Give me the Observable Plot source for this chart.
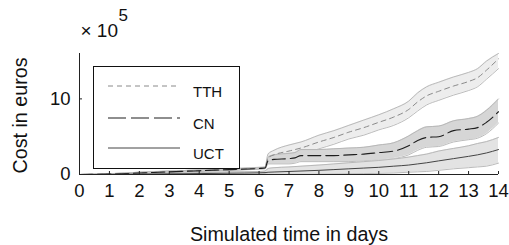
<!DOCTYPE html>
<html>
<head>
<meta charset="utf-8">
<script src="https://cdn.jsdelivr.net/npm/d3@7"></script>
<script src="https://cdn.jsdelivr.net/npm/@observablehq/plot@0.6"></script>
<style>
  html, body { margin: 0; padding: 0; background: #fff; }
  #wrap { position: relative; width: 509px; height: 245px; font-family: "Liberation Sans", Arial, sans-serif; }
  #wrap svg.plot { position: absolute; left: 0; top: 0; }
  #legend { position: absolute; left: 93px; top: 66px; }
</style>
</head>
<body>
<div id="wrap"></div>
<script>
// ---- data (cost in units of 10^5 euros) ----
const days   = [0, 1, 2, 3, 4, 5, 6, 6.2, 6.3, 6.5, 7, 7.2, 7.4, 8, 8.5, 9, 9.5, 10, 10.5, 11, 11.3, 11.6, 12, 12.5, 13, 13.3, 13.6, 14];

const tthMid = [0, 0.05, 0.2, 0.35, 0.5, 0.65, 0.85, 0.9, 2.2, 2.6, 3.1, 3.3, 3.5, 4.3, 4.9, 5.6, 6.2, 6.9, 7.6, 8.6, 9.6, 10.4, 11.0, 11.7, 12.3, 12.8, 13.8, 15.3];
const tthLo  = [0, 0, 0.1, 0.25, 0.4, 0.55, 0.75, 0.8, 1.6, 1.9, 2.3, 2.5, 2.7, 3.4, 4.0, 4.7, 5.2, 5.9, 6.5, 7.5, 8.4, 9.2, 9.8, 10.5, 11.1, 11.6, 12.6, 14.0];
const tthHi  = [0, 0.1, 0.3, 0.45, 0.6, 0.75, 0.95, 1.0, 2.7, 3.2, 3.9, 4.1, 4.3, 5.2, 5.8, 6.5, 7.2, 7.9, 8.7, 9.7, 10.8, 11.6, 12.2, 12.9, 13.5, 14.0, 15.0, 16.0];

const cnMid  = [0, 0.05, 0.2, 0.35, 0.5, 0.65, 0.8, 0.85, 1.8, 2.0, 2.1, 2.2, 2.5, 2.5, 2.5, 2.6, 2.7, 2.9, 3.1, 3.8, 4.5, 4.9, 5.0, 5.8, 6.0, 6.2, 6.9, 8.3];
const cnLo   = [0, 0, 0.1, 0.25, 0.4, 0.55, 0.7, 0.75, 1.4, 1.4, 1.4, 1.5, 1.7, 1.7, 1.7, 1.7, 1.8, 1.9, 2.1, 2.6, 3.2, 3.6, 3.7, 4.3, 4.6, 4.8, 5.4, 6.8];
const cnHi   = [0, 0.1, 0.3, 0.45, 0.6, 0.75, 0.9, 0.95, 2.3, 2.6, 2.8, 2.9, 3.3, 3.3, 3.4, 3.5, 3.6, 3.9, 4.2, 5.1, 5.8, 6.3, 6.4, 7.1, 7.4, 7.7, 8.5, 10.0];

const uctMid = [0, 0.02, 0.05, 0.08, 0.12, 0.17, 0.22, 0.25, 0.3, 0.33, 0.4, 0.43, 0.46, 0.55, 0.65, 0.75, 0.85, 0.95, 1.1, 1.25, 1.4, 1.55, 1.8, 2.1, 2.4, 2.6, 2.85, 3.3];
const uctLo  = [0, 0, 0, 0, 0, 0, 0.05, 0.1, 0.05, 0.05, 0.05, 0.05, 0.05, 0.05, 0.08, 0.1, 0.12, 0.15, 0.2, 0.3, 0.35, 0.4, 0.55, 0.75, 0.9, 1.0, 1.1, 1.5];
const uctHi  = [0, 0.05, 0.1, 0.15, 0.25, 0.35, 0.4, 0.45, 0.8, 0.9, 1.0, 1.05, 1.1, 1.25, 1.4, 1.55, 1.7, 1.85, 2.05, 2.3, 2.5, 2.7, 3.1, 3.45, 3.8, 4.1, 4.35, 4.9];

const xTicks = [0, 1, 2, 3, 4, 5, 6, 7, 8, 9, 10, 11, 12, 13, 14];
const yTicks = [0, 10];
const seriesNames = ["TTH", "CN", "UCT"];

const rows = (mid, lo, hi) => days.map((d, i) => ({day: d, mid: mid[i], lo: lo[i], hi: hi[i]}));
const tth = rows(tthMid, tthLo, tthHi);
const cn  = rows(cnMid, cnLo, cnHi);
const uct = rows(uctMid, uctLo, uctHi);

const styles = {
  TTH: {stroke: "#8a8a8a", dash: "5,4", legendDash: "5,4", width: 1.0, band: "#ededed"},
  CN:  {stroke: "#1e1e1e", dash: "13,5", legendDash: "18,5", width: 1.1, band: "#d6d6d6"},
  UCT: {stroke: "#444444", dash: null, legendDash: null, width: 1.0, band: "#e3e3e3"}
};
const edge = "#b3b3b3";
const curve = "monotone-x";

function bandMarks(data, s) {
  return [
    Plot.areaY(data, {x: "day", y1: "lo", y2: "hi", fill: s.band, curve}),
    Plot.line(data, {x: "day", y: "lo", stroke: edge, strokeWidth: 0.9, curve}),
    Plot.line(data, {x: "day", y: "hi", stroke: edge, strokeWidth: 0.9, curve})
  ];
}
function lineMark(data, s) {
  return Plot.line(data, {x: "day", y: "mid", stroke: s.stroke, strokeWidth: s.width, strokeDasharray: s.dash, curve});
}

const chart = Plot.plot({
  width: 509,
  height: 245,
  marginLeft: 79,
  marginRight: 11,
  marginTop: 53,
  marginBottom: 71,
  style: {fontFamily: "Liberation Sans, Arial, sans-serif", background: "transparent", overflow: "visible"},
  x: {domain: [0, 14]},
  y: {domain: [0, 16]},
  marks: [
    ...bandMarks(tth, styles.TTH),
    ...bandMarks(cn, styles.CN),
    ...bandMarks(uct, styles.UCT),
    lineMark(tth, styles.TTH),
    lineMark(cn, styles.CN),
    lineMark(uct, styles.UCT),
    Plot.ruleX([0], {stroke: "#222", strokeWidth: 1}),
    Plot.ruleY([0], {stroke: "#222", strokeWidth: 1}),
    Plot.axisX(xTicks, {tickSize: -3, tickPadding: 12, fontSize: 18.5, stroke: "#222", fill: "#111", label: null}),
    Plot.axisY(yTicks, {tickSize: -3, tickPadding: 12, fontSize: 18.5, stroke: "#222", fill: "#111", label: null}),
    Plot.text(["Simulated time in days"], {frameAnchor: "bottom", dy: 60, fontSize: 19.7, fill: "#111", lineAnchor: "middle"}),
    Plot.text(["Cost in euros"], {frameAnchor: "left", textAnchor: "middle", dx: -59, dy: 1.5, rotate: -90, fontSize: 19.7, fill: "#111", lineAnchor: "middle"}),
    Plot.text(["× 10"], {frameAnchor: "top-left", textAnchor: "start", dx: 1, dy: -23, fontSize: 19, fill: "#111", lineAnchor: "middle"}),
    Plot.text(["5"], {frameAnchor: "top-left", textAnchor: "start", dx: 39, dy: -38, fontSize: 17, fill: "#111", lineAnchor: "middle"})
  ]
});
chart.classList.add("plot");
const wrap = document.getElementById("wrap");
wrap.appendChild(chart);

// legend box overlay
const lw = 146, lh = 102;
const legend = d3.create("svg").attr("id", "legend").attr("width", lw + 1).attr("height", lh + 1);
legend.append("rect").attr("x", 0.5).attr("y", 0.5).attr("width", lw).attr("height", lh)
  .attr("fill", "#fff").attr("stroke", "#111").attr("stroke-width", 1);
const rowY = [20, 52, 82];
seriesNames.forEach((name, i) => {
  const s = styles[name];
  legend.append("line").attr("x1", 15).attr("x2", 87).attr("y1", rowY[i]).attr("y2", rowY[i])
    .attr("stroke", s.stroke).attr("stroke-width", s.width).attr("stroke-dasharray", s.legendDash);
  legend.append("text").attr("x", 100).attr("y", rowY[i] + 11).text(name)
    .attr("font-family", "Liberation Sans, Arial, sans-serif").attr("font-size", 15).attr("fill", "#111");
});
wrap.appendChild(legend.node());
</script>
</body>
</html>
